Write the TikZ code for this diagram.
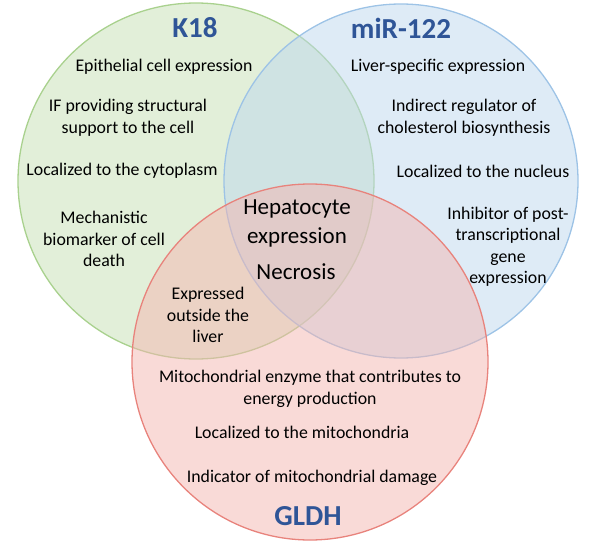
\documentclass[tikz,border=0pt]{standalone}
\usepackage{fontspec}
\setmainfont{Carlito}
\definecolor{kfill}{HTML}{C5E0B4}
\definecolor{kline}{HTML}{A9D18E}
\definecolor{mfill}{HTML}{BDD7EE}
\definecolor{mline}{HTML}{9DC3E6}
\definecolor{gfill}{HTML}{F4B5B0}
\definecolor{gline}{HTML}{E8837C}
\definecolor{titleblue}{HTML}{2F5597}
\begin{document}
\begin{tikzpicture}[x=1pt,y=-1pt]
        % Styles
        \tikzstyle{set circle}=[line width=1.3pt,fill opacity=.5]
        \tikzstyle{set title}=[text=titleblue,font=\fontsize{29}{33}\selectfont\bfseries,inner sep=0pt]
        \tikzstyle{set text}=[align=center,font=\fontsize{17.8}{21.5}\selectfont,inner sep=0pt]
        \tikzstyle{core text}=[align=center,font=\fontsize{23}{29}\selectfont,inner sep=0pt]
        \useasboundingbox (0,0) rectangle (600,551);
        %circles
        \draw[set circle,fill=kfill,draw=kline] (196,181) circle (178pt);
        \draw[set circle,fill=mfill,draw=mline] (401,181) circle (177pt);
        \draw[set circle,fill=gfill,draw=gline] (310,362) circle (178pt);
        %titles
        \node[set title] (k18) at (195,28) {K18};
        \node[set title] (mir) at (401,28) {miR-122};
        \node[set title] (gldh) at (308,516) {GLDH};
        %K18 only
        \node[set text] (k1) at (164,67) {Epithelial cell expression};
        \node[set text] (k2) at (128,118) {IF providing structural\\support to the cell};
        \node[set text] (k3) at (122,171) {Localized to the cytoplasm};
        \node[set text] (k4) at (104,239) {Mechanistic\\biomarker of cell\\death};
        %miR-122 only
        \node[set text] (m1) at (438,67) {Liver-specific expression};
        \node[set text] (m2) at (464,118) {Indirect regulator of\\cholesterol biosynthesis};
        \node[set text] (m3) at (483,171) {Localized to the nucleus};
        \node[set text] (m4) at (508,247) {Inhibitor of post-\\transcriptional\\gene\\expression};
        %GLDH only
        \node[set text] (g1) at (310,389) {Mitochondrial enzyme that contributes to\\energy production};
        \node[set text] (g2) at (302,432) {Localized to the mitochondria};
        \node[set text] (g3) at (312,478) {Indicator of mitochondrial damage};
        %overlaps
        \node[set text] (kg) at (208,315) {Expressed\\outside the\\liver};
        \node[core text] (all) at (297,223) {Hepatocyte\\expression};
        \node[core text] (nec) at (296,272) {Necrosis};
\end{tikzpicture}
\end{document}
